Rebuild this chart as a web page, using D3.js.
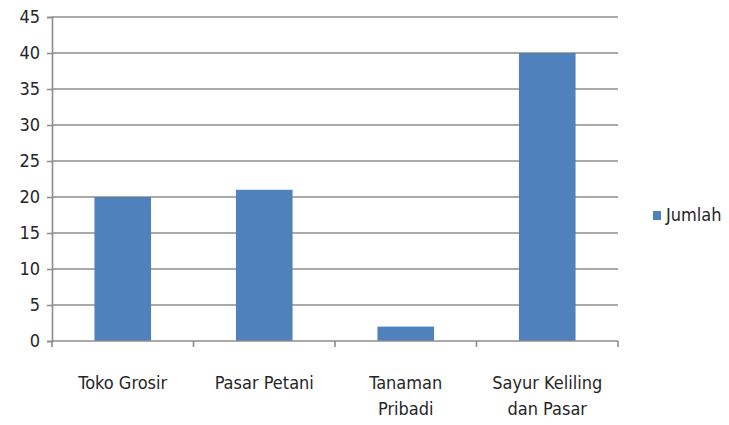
<!DOCTYPE html>
<html>
<head>
<meta charset="utf-8">
<script src="https://cdn.jsdelivr.net/npm/d3@7"></script>
<style>
  body { margin: 0; background: #fff; }
  text { font-family: "Liberation Sans Narrow", "DejaVu Sans Condensed", sans-serif; fill: #262626; }
</style>
</head>
<body>
<div id="chart"></div>
<script>
  // data
  const categories = [["Toko Grosir"], ["Pasar Petani"], ["Tanaman", "Pribadi"], ["Sayur Keliling", "dan Pasar"]]
  const jumlah = [20, 21, 2, 40]
  const yTicks = [0, 5, 10, 15, 20, 25, 30, 35, 40, 45]
  const seriesName = "Jumlah"

  let dimensions = {
    width: 729,
    height: 425,
    margin: { top: 17, right: 111, bottom: 84, left: 52 },
  }
  dimensions.boundedWidth = dimensions.width - dimensions.margin.left - dimensions.margin.right
  dimensions.boundedHeight = dimensions.height - dimensions.margin.top - dimensions.margin.bottom

  const svg = d3.select("#chart").append("svg")
      .attr("width", dimensions.width)
      .attr("height", dimensions.height)

  const bounds = svg.append("g")
      .attr("transform", `translate(${dimensions.margin.left},${dimensions.margin.top})`)

  const keys = categories.map((d, i) => i)
  const xScale = d3.scaleBand()
      .domain(keys)
      .range([0, dimensions.boundedWidth])
      .paddingInner(0.6)
      .paddingOuter(0.3)

  const yScale = d3.scaleLinear()
      .domain([0, 45])
      .range([dimensions.boundedHeight, 0])

  // gridlines
  bounds.selectAll(".grid")
    .data(yTicks.filter(d => d > 0))
    .enter().append("line")
      .attr("x1", 0).attr("x2", dimensions.boundedWidth)
      .attr("y1", d => yScale(d)).attr("y2", d => yScale(d))
      .attr("stroke", "#8c8c8c")
      .attr("stroke-width", 1.6)

  // bars
  bounds.selectAll("rect.bar")
    .data(jumlah)
    .enter().append("rect")
      .attr("class", "bar")
      .attr("x", (d, i) => xScale(i))
      .attr("width", xScale.bandwidth())
      .attr("y", d => yScale(d))
      .attr("height", d => dimensions.boundedHeight - yScale(d))
      .attr("fill", "#4f81bd")

  // y axis
  const yAxis = bounds.append("g")
      .call(d3.axisLeft(yScale).tickValues(yTicks).tickSize(5).tickPadding(7))
  yAxis.select(".domain").attr("stroke", "#8c8c8c").attr("stroke-width", 1.6)
  yAxis.selectAll(".tick line").attr("stroke", "#8c8c8c").attr("stroke-width", 1.6)
  yAxis.selectAll(".tick text").style("font-size", "18px").attr("fill", "#262626")

  // x axis
  const step = xScale.step()
  const xAxis = bounds.append("g")
      .attr("transform", `translate(0,${dimensions.boundedHeight})`)
  xAxis.append("line")
      .attr("x1", 0).attr("x2", dimensions.boundedWidth)
      .attr("stroke", "#8c8c8c").attr("stroke-width", 1.6)
  xAxis.selectAll(".xtick")
    .data(d3.range(keys.length + 1))
    .enter().append("line")
      .attr("x1", d => d * step).attr("x2", d => d * step)
      .attr("y1", 0).attr("y2", 6)
      .attr("stroke", "#8c8c8c").attr("stroke-width", 1.6)

  const labels = xAxis.selectAll(".xlabel")
    .data(categories)
    .enter().append("text")
      .attr("text-anchor", "middle")
      .attr("x", (d, i) => xScale(i) + xScale.bandwidth() / 2)
      .style("font-size", "18px")
  labels.selectAll("tspan")
    .data(d => d)
    .enter().append("tspan")
      .attr("x", function () { return this.parentNode.getAttribute("x") })
      .attr("y", (d, i) => 48 + i * 26)
      .text(d => d)

  // legend
  const legend = svg.append("g")
      .attr("transform", "translate(653,211)")
  legend.append("rect")
      .attr("width", 8).attr("height", 9)
      .attr("fill", "#4f81bd")
  legend.append("text")
      .attr("x", 13).attr("y", 10)
      .style("font-size", "18px")
      .text(seriesName)
</script>
</body>
</html>
